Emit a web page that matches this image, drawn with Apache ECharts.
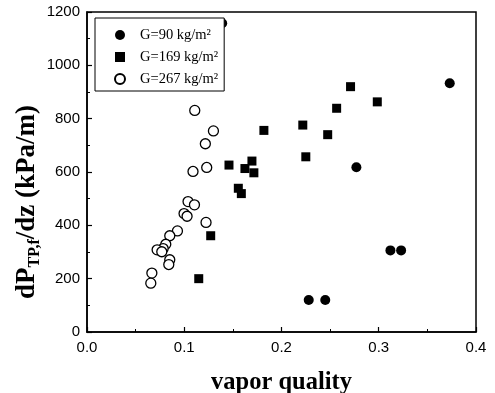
<!DOCTYPE html>
<html>
<head>
<meta charset="utf-8">
<script src="https://cdn.jsdelivr.net/npm/echarts@6/dist/echarts.min.js"></script>
<style>html,body{margin:0;padding:0;background:#fff;}#c{width:495px;height:393px;}</style>
</head>
<body>
<div id="c"></div>
<script>
var g90X = [0.139, 0.373, 0.277, 0.312, 0.323, 0.228, 0.245];
var g90Y = [1158, 933, 618, 306, 306, 120, 120];
var g169X = [0.271, 0.2985, 0.2567, 0.2219, 0.1819, 0.2475, 0.225, 0.146, 0.1696, 0.1624, 0.1716, 0.1556, 0.1587, 0.1272, 0.1149];
var g169Y = [920, 863, 839, 776, 756, 740, 657, 626, 641, 613, 597, 539, 519, 361, 200];
var g267X = [0.1108, 0.130, 0.1217, 0.1231, 0.109, 0.1039, 0.1105, 0.0998, 0.1029, 0.1224, 0.093, 0.0851, 0.081, 0.0783, 0.0721, 0.0769, 0.0851, 0.0841, 0.0667, 0.0656];
var g267Y = [831, 754, 706, 617, 602, 489, 477, 444, 434, 411, 379, 361, 329, 313, 308, 301, 271, 253, 221, 183];
var seriesNames = ['G=90 kg/m²', 'G=169 kg/m²', 'G=267 kg/m²'];

function pairs(xs, ys) { return xs.map(function (x, i) { return [x, ys[i]]; }); }

var serif = '"Liberation Serif", "DejaVu Serif", serif';
var sans = '"Liberation Sans", Arial, sans-serif';

var chart = echarts.init(document.getElementById('c'), null, {renderer: 'canvas'});
chart.setOption({
  animation: false,
  backgroundColor: '#fff',
  grid: {left: 87, right: 19, top: 12, bottom: 61, outerBoundsMode: 'none', containLabel: false,
         show: true, borderColor: '#000', borderWidth: 1.5, backgroundColor: 'transparent'},
  legend: {
    orient: 'vertical', left: 95, top: 18,
    padding: [9, 6, 4, 19],
    itemWidth: 10, itemHeight: 10, itemGap: 6,
    borderColor: '#000', borderWidth: 1, backgroundColor: '#fff',
    textStyle: {fontFamily: serif, fontSize: 14.5, color: '#000', lineHeight: 16, padding: [0, 0, 0, 10]},
    data: seriesNames,
    z: 10
  },
  xAxis: {
    type: 'value', min: 0, max: 0.4, interval: 0.1,
    name: 'vapor quality', nameLocation: 'middle', nameGap: 38, nameMoveOverlap: false,
    nameTextStyle: {fontFamily: serif, fontSize: 24.5, fontWeight: 'bold', color: '#000'},
    axisLine: {show: true, lineStyle: {color: '#000', width: 1.5}},
    axisTick: {show: true, inside: true, length: 5, lineStyle: {color: '#000', width: 1.2}},
    minorTick: {show: true, splitNumber: 2, length: 3, lineStyle: {color: '#000', width: 1}},
    axisLabel: {fontFamily: sans, fontSize: 15, color: '#000', margin: 8, formatter: function (v) { return v.toFixed(1); }},
    splitLine: {show: false}
  },
  yAxis: {
    type: 'value', min: 0, max: 1200, interval: 200,
    name: '{a|dP}{s|TP,f}{a|/dz (kPa/m)}', nameLocation: 'middle', nameGap: 44, nameMoveOverlap: false,
    nameTextStyle: {
      padding: [0, 60, 0, 0],
      rich: {
        a: {fontFamily: serif, fontSize: 27, fontWeight: 'bold', color: '#000', lineHeight: 32},
        s: {fontFamily: serif, fontSize: 16, fontWeight: 'bold', color: '#000', lineHeight: 32, verticalAlign: 'bottom', padding: [10, 0, 0, 0]}
      }
    },
    axisLine: {show: true, lineStyle: {color: '#000', width: 1.5}},
    axisTick: {show: true, inside: true, length: 5, lineStyle: {color: '#000', width: 1.2}},
    minorTick: {show: true, splitNumber: 2, length: 3, lineStyle: {color: '#000', width: 1}},
    axisLabel: {fontFamily: sans, fontSize: 15, color: '#000', margin: 7, formatter: function (v) { return String(v); }},
    splitLine: {show: false}
  },
  series: [
    {name: seriesNames[0], type: 'scatter', symbol: 'circle', symbolSize: 10,
     itemStyle: {color: '#000', opacity: 1}, data: pairs(g90X, g90Y)},
    {name: seriesNames[1], type: 'scatter', symbol: 'rect', symbolSize: 9,
     itemStyle: {color: '#000', opacity: 1}, data: pairs(g169X, g169Y)},
    {name: seriesNames[2], type: 'scatter', symbol: 'circle', symbolSize: 10,
     itemStyle: {color: '#fff', borderColor: '#000', borderWidth: 1.3, opacity: 1}, data: pairs(g267X, g267Y)}
  ]
});
</script>
</body>
</html>
